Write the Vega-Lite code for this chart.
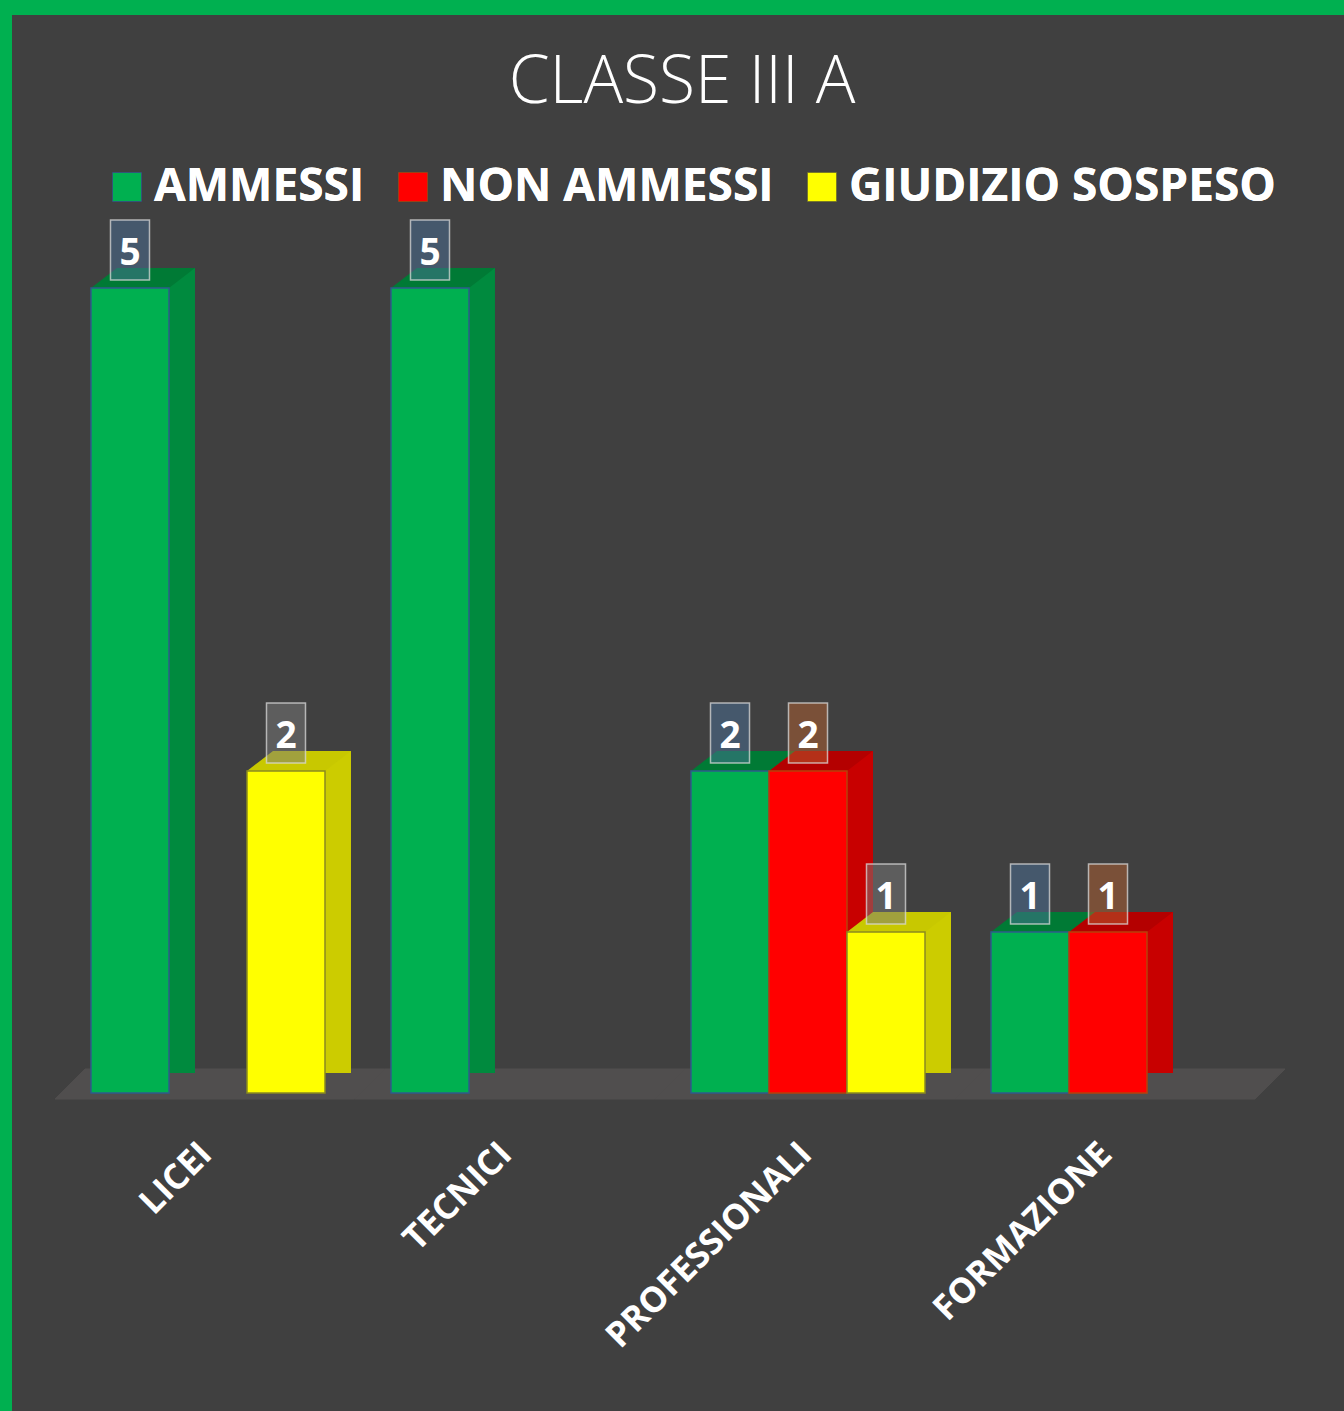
{
  "$schema": "https://vega.github.io/schema/vega-lite/v6.json",
  "autosize": {"type": "none"},
  "padding": {"left": 12, "top": 15, "right": 0, "bottom": 0},
  "width": 1332,
  "height": 1396,
  "background": "#00B050",
  "config": {"view": {"stroke": null, "fill": "#404040"}},
  "title": {"text": "CLASSE III A", "font": "Open Sans", "fontSize": 66, "fontWeight": 300, "color": "#ffffff", "anchor": "middle", "baseline": "alphabetic", "offset": -154, "dx": 4},
  "data": {"values": [
    {"cat": "LICEI", "series": "AMMESSI", "value": 5},
    {"cat": "LICEI", "series": "GIUDIZIO SOSPESO", "value": 2},
    {"cat": "TECNICI", "series": "AMMESSI", "value": 5},
    {"cat": "PROFESSIONALI", "series": "AMMESSI", "value": 2},
    {"cat": "PROFESSIONALI", "series": "NON AMMESSI", "value": 2},
    {"cat": "PROFESSIONALI", "series": "GIUDIZIO SOSPESO", "value": 1},
    {"cat": "FORMAZIONE", "series": "AMMESSI", "value": 1},
    {"cat": "FORMAZIONE", "series": "NON AMMESSI", "value": 1}
  ]},
  "encoding": {
    "x": {"field": "cat", "type": "nominal", "sort": ["LICEI", "TECNICI", "PROFESSIONALI", "FORMAZIONE"],
      "scale": {"range": [0, 1292], "paddingInner": 0.22, "paddingOuter": 0.2633},
      "axis": {"title": null, "labelAngle": -45, "labelAlign": "right", "labelBaseline": "top", "labelFont": "Open Sans", "labelFontWeight": "bold", "labelFontSize": 35, "labelColor": "#ffffff", "ticks": false, "tickSize": 0, "domain": false, "grid": false, "labelPadding": 0, "labelOffset": -14, "offset": -275, "labelLimit": 1000}}
  },
  "layer": [
    {
      "transform": [{"aggregate": [{"op": "count", "as": "n"}], "groupby": ["cat"]}],
      "mark": {"type": "point", "filled": true, "opacity": 1, "fill": "#504e4e", "stroke": "#504e4e", "strokeWidth": 1, "size": 40000, "shape": "M-1.23,-0.15L1.77,-0.15L1.47,0.15L-1.53,0.15Z", "yOffset": -9},
      "encoding": {
        "y": {"datum": 0, "type": "quantitative", "scale": {"domain": [-1.9752, 6.6957], "nice": false, "zero": false}, "axis": null}
      }
    },
    {
      "mark": {"type": "bar"},
      "encoding": {
        "xOffset": {"field": "series", "type": "nominal", "scale": {"type": "band", "domain": ["AMMESSI", "NON AMMESSI", "GIUDIZIO SOSPESO"], "range": [26, 260], "paddingInner": 0, "paddingOuter": 0}},
        "y": {"field": "value", "type": "quantitative", "scale": {"domain": [-2.0994, 6.5715], "nice": false, "zero": false}, "axis": null},
        "fill": {"field": "series", "type": "nominal", "scale": {"domain": ["AMMESSI", "NON AMMESSI", "GIUDIZIO SOSPESO"], "range": ["#008a3e", "#c80000", "#cccc00"]}, "legend": null}
      }
    },
    {
      "mark": {"type": "point", "filled": true, "opacity": 1, "strokeWidth": 0, "size": 40000, "shape": "M-0.39,0L-0.13,-0.2L0.65,-0.2L0.39,0Z"},
      "encoding": {
        "xOffset": {"field": "series", "type": "nominal", "scale": {"type": "band", "domain": ["AMMESSI", "NON AMMESSI", "GIUDIZIO SOSPESO"], "paddingInner": 0, "paddingOuter": 0}},
        "y": {"field": "value", "type": "quantitative", "scale": {"domain": [-1.9752, 6.6957], "nice": false, "zero": false}, "axis": null},
        "fill": {"field": "series", "type": "nominal", "scale": {"domain": ["AMMESSI", "NON AMMESSI", "GIUDIZIO SOSPESO"], "range": ["#007a35", "#b40000", "#c8c800"]}, "legend": null}
      }
    },
    {
      "mark": {"type": "bar", "strokeWidth": 1.5},
      "encoding": {
        "xOffset": {"field": "series", "type": "nominal", "scale": {"type": "band", "domain": ["AMMESSI", "NON AMMESSI", "GIUDIZIO SOSPESO"], "paddingInner": 0, "paddingOuter": 0}},
        "y": {"field": "value", "type": "quantitative", "scale": {"domain": [-1.9752, 6.6957], "nice": false, "zero": false}, "axis": null},
        "fill": {"field": "series", "type": "nominal", "scale": {"domain": ["AMMESSI", "NON AMMESSI", "GIUDIZIO SOSPESO"], "range": ["#00B050", "#FF0000", "#FFFF00"]},
          "legend": {"title": null, "orient": "none", "direction": "horizontal", "legendX": 92, "legendY": 149, "padding": 0, "symbolType": "square", "symbolSize": 784, "symbolStrokeWidth": 1.5, "labelFont": "Open Sans", "labelFontWeight": "bold", "labelFontSize": 46, "labelColor": "#ffffff", "labelOffset": 4, "columnPadding": 25, "labelLimit": 1000}},
        "stroke": {"field": "series", "type": "nominal", "scale": {"domain": ["AMMESSI", "NON AMMESSI", "GIUDIZIO SOSPESO"], "range": ["#2e5c8c", "#b8400a", "#8a8a20"]},
          "legend": {"title": null, "orient": "none", "direction": "horizontal", "legendX": 92, "legendY": 149, "padding": 0, "symbolType": "square", "symbolSize": 784, "symbolStrokeWidth": 1.5, "labelFont": "Open Sans", "labelFontWeight": "bold", "labelFontSize": 46, "labelColor": "#ffffff", "labelOffset": 4, "columnPadding": 25, "labelLimit": 1000}}
      }
    },
    {
      "mark": {"type": "point", "filled": true, "opacity": 1, "fillOpacity": 0.5, "stroke": "#d9d9d9", "strokeOpacity": 0.75, "strokeWidth": 1.5, "size": 40000, "shape": "M-0.195,-0.3L0.195,-0.3L0.195,0.3L-0.195,0.3Z", "yOffset": -38},
      "encoding": {
        "xOffset": {"field": "series", "type": "nominal", "scale": {"type": "band", "domain": ["AMMESSI", "NON AMMESSI", "GIUDIZIO SOSPESO"], "paddingInner": 0, "paddingOuter": 0}},
        "y": {"field": "value", "type": "quantitative", "scale": {"domain": [-1.9752, 6.6957], "nice": false, "zero": false}, "axis": null},
        "fill": {"field": "series", "type": "nominal", "scale": {"domain": ["AMMESSI", "NON AMMESSI", "GIUDIZIO SOSPESO"], "range": ["#4a6f98", "#b46030", "#7a7a7a"]}, "legend": null}
      }
    },
    {
      "mark": {"type": "text", "font": "Open Sans", "fontWeight": "bold", "fontSize": 37, "fill": "#ffffff", "align": "center", "baseline": "alphabetic", "dy": -23},
      "encoding": {
        "xOffset": {"field": "series", "type": "nominal", "scale": {"type": "band", "domain": ["AMMESSI", "NON AMMESSI", "GIUDIZIO SOSPESO"], "paddingInner": 0, "paddingOuter": 0}},
        "y": {"field": "value", "type": "quantitative", "scale": {"domain": [-1.9752, 6.6957], "nice": false, "zero": false}, "axis": null},
        "text": {"field": "value", "type": "quantitative"}
      }
    }
  ],
  "resolve": {"scale": {"fill": "independent", "xOffset": "independent", "y": "independent"}}
}
